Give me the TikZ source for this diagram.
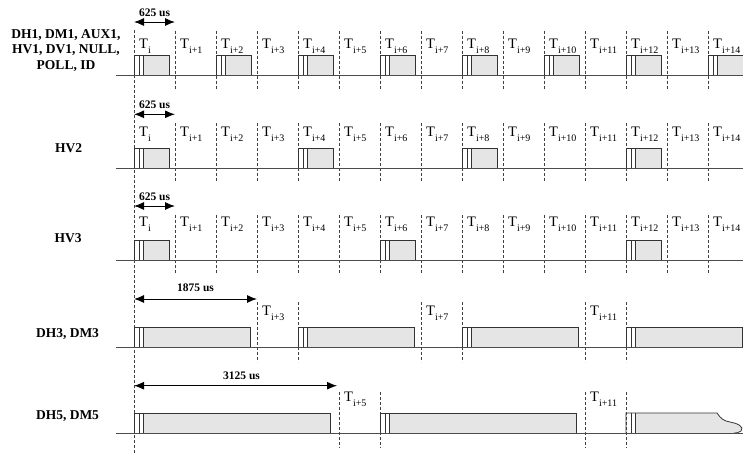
\documentclass[tikz,border=0pt]{standalone}
\usepackage{fontspec}
\setmainfont{Liberation Serif}
\usetikzlibrary{arrows.meta}
\tikzset{
    slotline/.style={dash pattern=on 3pt off 2pt, black!75, line width=0.7pt},
    axisline/.style={black!70, line width=0.8pt},
    pktline/.style={black!80, line width=0.8pt},
    pktfill/.style={fill=black!10},
    dimarrow/.style={{Latex[length=10pt,width=8pt]}-{Latex[length=10pt,width=8pt]}, line width=1pt},
    rowlabel/.style={font=\fontsize{13.5}{15.5}\selectfont\bfseries, align=center},
    dimlabel/.style={font=\fontsize{11.5}{12}\selectfont\bfseries, inner sep=1pt},
    tlabel/.style={font=\fontsize{14.5}{16}\selectfont, anchor=base west, inner sep=0pt},
}
\newcommand{\tslot}[1]{T\raisebox{-5pt}{\fontsize{10}{10}\selectfont #1}}
% packet: start x, end x, baseline y
\newcommand{\pkt}[3]{%
    \fill[pktfill] (#1+9,#3) rectangle (#2,#3-20);
    \draw[pktline] (#1,#3) -- (#1,#3-20) -- (#2,#3-20) -- (#2,#3);
    \draw[pktline] (#1+5,#3) -- (#1+5,#3-20) (#1+9,#3) -- (#1+9,#3-20);
}
\begin{document}
\begin{tikzpicture}[x=1pt, y=-1pt]
    \useasboundingbox (0,0) rectangle (743,453);
    % row labels
    \node[rowlabel] (lab1) at (66,50.5) {DH1, DM1, AUX1,\\HV1, DV1, NULL,\\POLL, ID};
    \node[rowlabel] (lab2) at (68.5,148) {HV2};
    \node[rowlabel] (lab3) at (68,238) {HV3};
    \node[rowlabel] (lab4) at (67.5,334) {DH3, DM3};
    \node[rowlabel] (lab5) at (67.5,416) {DH5, DM5};
    \draw[slotline] (134,30) -- (134,453); %start of T_i
    % single slot rows
    \foreach \r/\base/\skipk/\ty in {1/75.5/2/48, 2/168/4/136.7, 3/260/6/226.7} {
        \foreach \k in {1,...,14} {
            \draw[slotline] (134+41*\k,\base-45) -- (134+41*\k,\base+14);
        }
        \foreach \k in {0,...,14} {
            \node[tlabel] (t\r-\k) at (139+41*\k,\ty) {\ifnum\k=0 \tslot{i}\else\tslot{i+\k}\fi};
        }
        \foreach \k in {0,\skipk,...,14} {
            \pkt{134+41*\k}{169+41*\k}{\base}
        }
    }
    % three slot row
    \foreach \k in {3,4,7,8,11,12} {
        \draw[slotline] (134+41*\k,302) -- (134+41*\k,362);
    }
    \foreach \k in {3,7,11} {
        \node[tlabel] (t4-\k) at (139+41*\k,315) {\tslot{i+\k}};
    }
    \foreach \k in {0,4,8,12} {
        \pkt{134+41*\k}{250+41*\k}{347}
    }
    % five slot row
    \foreach \k in {5,6,11,12} {
        \draw[slotline] (134+41*\k,392) -- (134+41*\k,448);
    }
    \foreach \k in {5,11} {
        \node[tlabel] (t5-\k) at (139+41*\k,401.7) {\tslot{i+\k}};
    }
    \pkt{134}{330}{433}
    \pkt{380}{576}{433}
    \fill[pktfill] (635,433) -- (635,413) -- (717,413) .. controls (721,419) and (724,421) .. (730,422)
        .. controls (737,423) and (745,427) .. (741,431) .. controls (739,433) and (736,433) .. (734,433) -- cycle;
    \draw[pktline] (626,433) -- (626,413) -- (717,413) .. controls (721,419) and (724,421) .. (730,422)
        .. controls (737,423) and (745,427) .. (741,431) .. controls (739,433) and (736,433) .. (734,433);
    \draw[pktline] (631,433) -- (631,413) (635,433) -- (635,413);
    % axes
    \foreach \base in {75.5,168,260,347,433} {
        \draw[axisline] (116,\base) -- (743,\base);
    }
    % slot lengths
    \coordinate (a1) at (134,22);
    \coordinate (b1) at (175,22);
    \coordinate (a2) at (134,114.3);
    \coordinate (b2) at (175,114.3);
    \coordinate (a3) at (134,206);
    \coordinate (b3) at (175,206);
    \coordinate (a4) at (134,299);
    \coordinate (b4) at (257,299);
    \coordinate (a5) at (134,385.7);
    \coordinate (b5) at (337,385.7);
    \draw[dimarrow] (a1) -- (b1) node[dimlabel, midway, yshift=9.5pt] (d1) {625 us};
    \draw[dimarrow] (a2) -- (b2) node[dimlabel, midway, yshift=10pt] (d2) {625 us};
    \draw[dimarrow] (a3) -- (b3) node[dimlabel, midway, yshift=9.5pt] (d3) {625 us};
    \draw[dimarrow] (a4) -- (b4) node[dimlabel, midway, yshift=11pt] (d4) {1875 us};
    \draw[dimarrow] (a5) -- (b5) node[dimlabel, midway, yshift=10pt, xshift=6pt] (d5) {3125 us};
\end{tikzpicture}
\end{document}
